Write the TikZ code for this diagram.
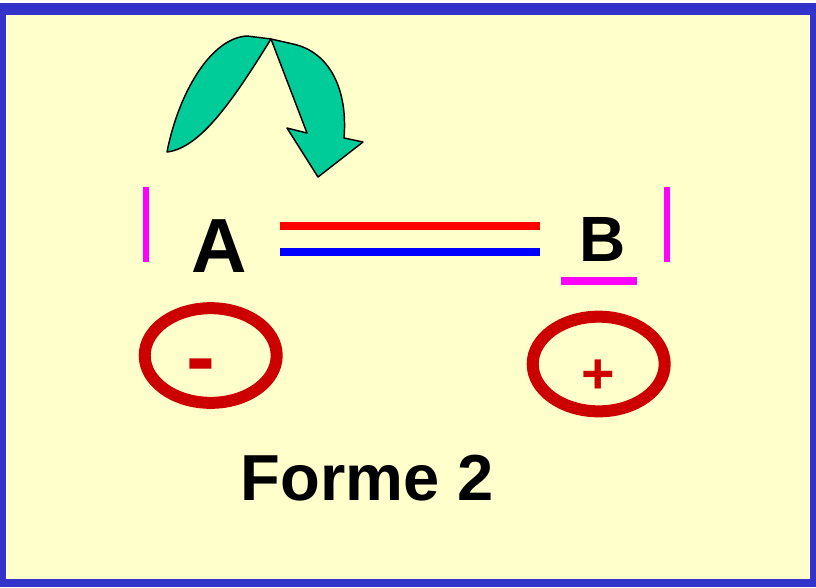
\documentclass[tikz,border=0pt]{standalone}
\usepackage{fontspec}
\setmainfont{Liberation Sans}
\usetikzlibrary{shapes.geometric}
\definecolor{frameblue}{HTML}{3333CC}
\definecolor{paper}{HTML}{FFFFCC}
\definecolor{arrowgreen}{HTML}{00CC99}
\definecolor{ringred}{HTML}{CC0000}
\definecolor{barmag}{HTML}{FF00FF}
\definecolor{bondred}{HTML}{FF0000}
\definecolor{bondblue}{HTML}{0000FF}
\tikzset{
  lbl/.style={inner sep=0pt, anchor=base, font=\bfseries},
  ring/.style={draw=ringred, line width=9pt, ellipse, inner sep=0pt, minimum width=99pt, minimum height=71pt},
  bar/.style={draw=barmag, line width=5pt},
  bond/.style={line width=6pt},
  curlyarrow/.style={fill=arrowgreen, draw=black, line width=1.1pt, line join=round}
}
\begin{document}
\begin{tikzpicture}[x=0.75pt,y=-0.75pt]
\useasboundingbox (0,0) rectangle (816,587);
\fill[white] (0,0) rectangle (816,587);
\fill[frameblue] (0,3) rectangle (816,587);
\fill[paper] (6,15) rectangle (810,579);

% curved arrow
\draw[curlyarrow] (167,152) .. controls (178,95) and (210,38) .. (247,36) -- (271,39)
   .. controls (232,102) and (200,148) .. (167,152) -- cycle;
\draw[curlyarrow] (271,39) -- (293,44) .. controls (330,52) and (348,90) .. (344,138)
   -- (363,142) -- (318,177) -- (287,128) -- (307,133) -- cycle;

% bars
\coordinate (l1) at (146,187); \coordinate (l2) at (146,262);
\coordinate (r1) at (667,187); \coordinate (r2) at (667,262);
\coordinate (u1) at (561,281); \coordinate (u2) at (637,281);
\draw[bar] (l1) -- (l2);
\draw[bar] (r1) -- (r2);
\draw[bar, line width=6pt] (u1) -- (u2);

% atoms
\node[lbl, font=\bfseries\fontsize{57.6}{60}\selectfont] (A) at (219,272) {A};
\node[lbl, font=\bfseries\fontsize{48}{50}\selectfont] (B) at (603,261) {B};

% bonds
\coordinate (b1) at (280,226); \coordinate (b2) at (540,226);
\coordinate (b3) at (280,252); \coordinate (b4) at (540,252);
\draw[bond, bondred] (b1) -- (b2);
\draw[bond, bondblue] (b3) -- (b4);

% charges
\node[ring] (ringA) at (210.7,355.5) {};
\node[ring] (ringB) at (598.7,364) {};
\node[lbl, text=ringred, font=\bfseries\fontsize{65}{68}\selectfont] (minus) at (200.5,386) {-};
\node[lbl, text=ringred, font=\bfseries\fontsize{43}{45}\selectfont] (plus) at (598.5,393) {+};

\node[lbl, font=\bfseries\fontsize{48.8}{52}\selectfont] (title) at (367.5,500) {Forme 2};
\end{tikzpicture}
\end{document}
